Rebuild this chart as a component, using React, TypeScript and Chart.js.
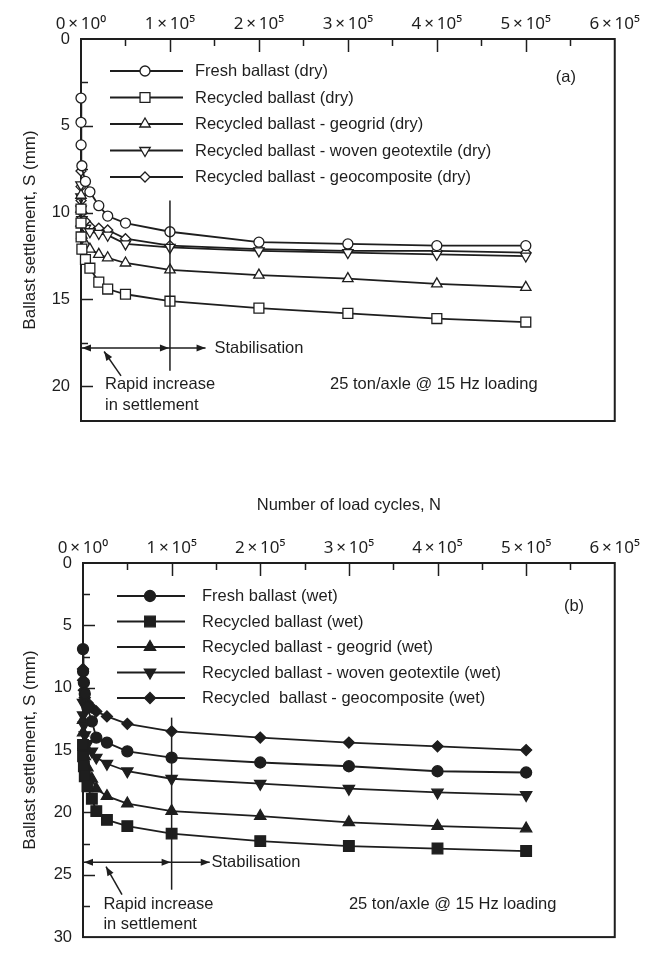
import React, { useEffect, useRef } from 'react';
import { Chart, registerables } from 'chart.js';
Chart.register(...registerables);

// ---------------- data ----------------
const cyclesDry = [1, 10, 100, 1000, 5000, 10000, 20000, 30000, 50000, 100000, 200000, 300000, 400000, 500000];
const freshDry = [3.4, 4.8, 6.1, 7.3, 8.2, 8.8, 9.6, 10.2, 10.6, 11.1, 11.7, 11.8, 11.9, 11.9];
const recycledDry = [9.8, 10.6, 11.4, 12.1, 12.7, 13.2, 14.0, 14.4, 14.7, 15.1, 15.5, 15.8, 16.1, 16.3];
const geogridDry = [9.0, 9.8, 10.6, 11.3, 11.8, 12.1, 12.4, 12.6, 12.9, 13.3, 13.6, 13.8, 14.1, 14.3];
const wovenDry = [8.4, 9.1, 9.8, 10.4, 10.9, 11.1, 11.2, 11.3, 11.8, 12.0, 12.2, 12.3, 12.4, 12.5];
const geocompositeDry = [7.6, 8.5, 9.3, 10.0, 10.5, 10.8, 10.9, 11.0, 11.5, 11.9, 12.1, 12.2, 12.2, 12.3];

const cyclesWet = [1, 100, 1000, 2000, 5000, 10000, 15000, 27000, 50000, 100000, 200000, 300000, 400000, 500000];
const freshWet = [6.9, 8.7, 9.6, 10.5, 11.6, 12.7, 14.0, 14.4, 15.1, 15.6, 16.0, 16.3, 16.7, 16.8];
const recycledWet = [14.6, 15.5, 16.3, 17.1, 17.9, 18.9, 19.9, 20.6, 21.1, 21.7, 22.3, 22.7, 22.9, 23.1];
const geogridWet = [12.6, 13.6, 14.6, 15.5, 16.4, 17.3, 18.1, 18.7, 19.3, 19.9, 20.3, 20.8, 21.1, 21.3];
const wovenWet = [11.2, 12.2, 13.0, 13.8, 14.5, 15.1, 15.6, 16.1, 16.7, 17.3, 17.7, 18.1, 18.4, 18.6];
const geocompositeWet = [8.5, 9.4, 10.2, 10.8, 11.2, 11.6, 11.9, 12.3, 12.9, 13.5, 14.0, 14.4, 14.7, 15.0];

const labelsDry = [
  'Fresh ballast (dry)',
  'Recycled ballast (dry)',
  'Recycled ballast - geogrid (dry)',
  'Recycled ballast - woven geotextile (dry)',
  'Recycled ballast - geocomposite (dry)',
];
const labelsWet = [
  'Fresh ballast (wet)',
  'Recycled ballast (wet)',
  'Recycled ballast - geogrid (wet)',
  'Recycled ballast - woven geotextile (wet)',
  'Recycled  ballast - geocomposite (wet)',
];

const xTickValues = [0, 100000, 200000, 300000, 400000, 500000, 600000];
const xTickLabels = ['0\u2009×\u200910⁰', '1\u2009×\u200910⁵', '2\u2009×\u200910⁵', '3\u2009×\u200910⁵', '4\u2009×\u200910⁵', '5\u2009×\u200910⁵', '6\u2009×\u200910⁵'];
const yTicksA = [0, 5, 10, 15, 20];
const yTicksB = [0, 5, 10, 15, 20, 25, 30];

// ---------------- styling ----------------
const FONT = '"Liberation Sans", Arial, Helvetica, sans-serif';
const TICKFONT = '"Noto Sans", "DejaVu Sans", sans-serif';
const INK = '#1e1e1e';

const markerStyles = [
  { style: 'circle', rot: 0, r: 5 },
  { style: 'rect', r: 7, rot: 0 },
  { style: 'triangle', r: 6, rot: 0 },
  { style: 'triangle', r: 6, rot: 180 },
  { style: 'rectRot', r: 5, rot: 0 },
];

function markerPath(ctx: CanvasRenderingContext2D, style: string, x: number, y: number, r: number, rotDeg: number) {
  ctx.beginPath();
  let rad = (rotDeg * Math.PI) / 180;
  if (style === 'circle') {
    ctx.arc(x, y, r, 0, Math.PI * 2);
  } else if (style === 'rect') {
    const s = r * Math.SQRT1_2;
    ctx.rect(x - s, y - s, 2 * s, 2 * s);
  } else if (style === 'triangle') {
    for (let i = 0; i < 3; i++) {
      const px = x + Math.sin(rad) * r;
      const py = y - Math.cos(rad) * r;
      if (i === 0) ctx.moveTo(px, py);
      else ctx.lineTo(px, py);
      rad += (2 * Math.PI) / 3;
    }
  } else if (style === 'rectRot') {
    ctx.moveTo(x, y - r);
    ctx.lineTo(x + r, y);
    ctx.lineTo(x, y + r);
    ctx.lineTo(x - r, y);
  }
  ctx.closePath();
}

const framePlugin = {
  id: 'frame',
  beforeDatasetsDraw(chart: any, _args: any, opts: any) {
    const { ctx, chartArea: a, scales } = chart;
    ctx.save();
    ctx.strokeStyle = INK;
    ctx.lineWidth = 1.5;
    for (let v = opts.xStep; v < opts.xMax; v += opts.xStep) {
      const px = Math.round(scales.x.getPixelForValue(v)) + 0.5;
      const len = Math.abs(v % (opts.xStep * 2)) < 1 ? 13 : 7;
      ctx.beginPath();
      ctx.moveTo(px, a.top);
      ctx.lineTo(px, a.top + len);
      ctx.stroke();
    }
    for (let v = opts.yStep; v < opts.yMax; v += opts.yStep) {
      const py = Math.round(scales.y.getPixelForValue(v)) + 0.5;
      const len = Math.abs(v % (opts.yStep * 2)) < 0.01 ? 12 : 7;
      ctx.beginPath();
      ctx.moveTo(a.left, py);
      ctx.lineTo(a.left + len, py);
      ctx.stroke();
    }
    ctx.lineWidth = 2;
    ctx.strokeRect(a.left, a.top, a.width, a.height);
    ctx.restore();
  },
};

function arrowHead(ctx: CanvasRenderingContext2D, tx: number, ty: number, fx: number, fy: number, len = 9, half = 3.5) {
  const ang = Math.atan2(ty - fy, tx - fx);
  ctx.beginPath();
  ctx.moveTo(tx, ty);
  ctx.lineTo(tx - len * Math.cos(ang) + half * Math.sin(ang), ty - len * Math.sin(ang) - half * Math.cos(ang));
  ctx.lineTo(tx - len * Math.cos(ang) - half * Math.sin(ang), ty - len * Math.sin(ang) + half * Math.cos(ang));
  ctx.closePath();
  ctx.fill();
}

const notePlugin = {
  id: 'notes',
  afterDatasetsDraw(chart: any, _args: any, o: any) {
    const { ctx, scales } = chart;
    const X = (v: number) => scales.x.getPixelForValue(v);
    const Y = (v: number) => scales.y.getPixelForValue(v);
    ctx.save();
    ctx.strokeStyle = INK;
    ctx.fillStyle = INK;
    ctx.lineWidth = 1.5;
    ctx.beginPath();
    ctx.moveTo(X(o.vline.x), Y(o.vline.y1));
    ctx.lineTo(X(o.vline.x), Y(o.vline.y2));
    ctx.stroke();
    const ay = Y(o.arrow.y);
    const x0 = X(o.arrow.x0), xm = X(o.arrow.xm), x1 = X(o.arrow.x1);
    ctx.beginPath();
    ctx.moveTo(x0, ay);
    ctx.lineTo(x1, ay);
    ctx.stroke();
    arrowHead(ctx, x0 + 1, ay, x0 + 20, ay);
    arrowHead(ctx, xm - 1, ay, xm - 20, ay);
    arrowHead(ctx, x1, ay, x1 - 20, ay);
    const px0 = X(o.pointer.x0), py0 = Y(o.pointer.y0), px1 = X(o.pointer.x1), py1 = Y(o.pointer.y1);
    ctx.beginPath();
    ctx.moveTo(px0, py0);
    ctx.lineTo(px1, py1);
    ctx.stroke();
    arrowHead(ctx, px1, py1, px0, py0);
    ctx.font = `16.5px ${FONT}`;
    ctx.textBaseline = 'middle';
    for (const t of o.texts) {
      ctx.textAlign = t.align || 'left';
      ctx.fillText(t.text, X(t.x), Y(t.y));
    }
    ctx.restore();
  },
};

const legendPlugin = {
  id: 'boxLegend',
  afterDatasetsDraw(chart: any, _args: any, o: any) {
    const { ctx, chartArea: a } = chart;
    ctx.save();
    ctx.font = `16.5px ${FONT}`;
    ctx.textBaseline = 'middle';
    ctx.textAlign = 'left';
    chart.data.datasets.forEach((ds: any, i: number) => {
      const y = a.top + o.top + i * o.spacing;
      ctx.strokeStyle = INK;
      ctx.lineWidth = 1.8;
      ctx.beginPath();
      ctx.moveTo(a.left + o.lineStart, y);
      ctx.lineTo(a.left + o.lineEnd, y);
      ctx.stroke();
      const mx = a.left + o.marker;
      markerPath(ctx, ds.pointStyle, mx, y, ds.pointRadius, ds.pointRotation || 0);
      ctx.fillStyle = ds.pointBackgroundColor;
      ctx.fill();
      ctx.lineWidth = ds.pointBorderWidth;
      ctx.strokeStyle = INK;
      ctx.stroke();
      ctx.fillStyle = INK;
      ctx.fillText(ds.label, a.left + o.text, y + 0.5);
    });
    ctx.restore();
  },
};

function buildConfig(p: any) {
  const series = p.series as number[][];
  return {
    type: 'line',
    data: {
      datasets: series.map((vals, i) => {
        const st = markerStyles[i];
        return {
          label: p.labels[i],
          data: p.cycles.map((n: number, j: number) => ({ x: n, y: vals[j] })),
          borderColor: INK,
          borderWidth: 1.8,
          pointStyle: st.style,
          pointRotation: st.rot,
          pointRadius: p.filled ? st.r + 0.5 : st.r,
          pointBackgroundColor: p.filled ? INK : '#ffffff',
          pointBorderColor: INK,
          pointBorderWidth: 1.3,
          tension: 0,
          fill: false,
          clip: false,
        };
      }),
    },
    options: {
      responsive: false,
      animation: false,
      devicePixelRatio: 1,
      layout: { padding: { left: 0, right: p.padRight, top: 0, bottom: p.padBottom } },
      plugins: {
        legend: { display: false },
        tooltip: { enabled: false },
        frame: { xStep: 50000, xMax: 600000, yStep: 2.5, yMax: p.yMax },
        notes: p.notes,
        boxLegend: p.legend,
      },
      scales: {
        x: {
          type: 'linear',
          position: 'top',
          min: 0,
          max: 600000,
          grid: { display: false, drawTicks: false },
          border: { display: false },
          afterBuildTicks: (s: any) => {
            s.ticks = xTickValues.map((v) => ({ value: v }));
          },
          afterFit: (s: any) => {
            s.height = p.topH;
          },
          ticks: {
            padding: 5,
            color: INK,
            font: { family: TICKFONT, size: 17 },
            maxRotation: 0,
            autoSkip: false,
            callback: (v: number) => xTickLabels[Math.round(v / 100000)],
          },
          title: {
            display: !!p.xTitle,
            text: p.xTitle || '',
            color: INK,
            font: { family: FONT, size: 16.5 },
            padding: { top: 16, bottom: 0 },
          },
        },
        y: {
          type: 'linear',
          reverse: true,
          min: 0,
          max: p.yMax,
          grid: { display: false, drawTicks: false },
          border: { display: false },
          afterBuildTicks: (s: any) => {
            s.ticks = p.yTicks.map((v: number) => ({ value: v }));
          },
          afterFit: (s: any) => {
            s.width = p.leftW;
          },
          ticks: { padding: 11, color: INK, font: { family: FONT, size: 16.5 } },
          title: {
            display: true,
            text: 'Ballast settlement, S (mm)',
            color: INK,
            font: { family: FONT, size: 17 },
            padding: { top: 20, bottom: 0 },
          },
        },
      },
    },
    plugins: [framePlugin, notePlugin, legendPlugin],
  };
}

const panelA = {
  cycles: cyclesDry,
  series: [freshDry, recycledDry, geogridDry, wovenDry, geocompositeDry],
  labels: labelsDry,
  filled: false,
  yMax: 22,
  yTicks: yTicksA,
  leftW: 81,
  topH: 39,
  padRight: 29,
  padBottom: 49,
  legend: { top: 32, spacing: 26.5, lineStart: 29, lineEnd: 102, marker: 64, text: 114 },
  notes: {
    vline: { x: 100000, y1: 9.3, y2: 19.1 },
    arrow: { y: 17.8, x0: 0, xm: 100000, x1: 140000 },
    pointer: { x0: 45000, y0: 19.4, x1: 26000, y1: 18.0 },
    texts: [
      { text: 'Stabilisation', x: 150000, y: 17.8 },
      { text: 'Rapid increase', x: 27000, y: 19.9 },
      { text: 'in settlement', x: 27000, y: 21.1 },
      { text: '25 ton/axle @ 15 Hz loading', x: 280000, y: 19.9 },
      { text: '(a)', x: 545000, y: 2.2, align: 'center' },
    ],
  },
};

const panelB = {
  cycles: cyclesWet,
  series: [freshWet, recycledWet, geogridWet, wovenWet, geocompositeWet],
  labels: labelsWet,
  filled: true,
  yMax: 30,
  yTicks: yTicksB,
  leftW: 83,
  topH: 83,
  padRight: 28,
  padBottom: 13,
  xTitle: 'Number of load cycles, N',
  legend: { top: 33, spacing: 25.5, lineStart: 34, lineEnd: 102, marker: 67, text: 119 },
  notes: {
    vline: { x: 100000, y1: 12.4, y2: 26.2 },
    arrow: { y: 24.0, x0: 0, xm: 100000, x1: 143000 },
    pointer: { x0: 44000, y0: 26.6, x1: 26000, y1: 24.35 },
    texts: [
      { text: 'Stabilisation', x: 145000, y: 24.0 },
      { text: 'Rapid increase', x: 23000, y: 27.4 },
      { text: 'in settlement', x: 23000, y: 29.0 },
      { text: '25 ton/axle @ 15 Hz loading', x: 300000, y: 27.4 },
      { text: '(b)', x: 554000, y: 3.5, align: 'center' },
    ],
  },
};

function Panel({ top, height, spec }: { top: number; height: number; spec: any }) {
  const ref = useRef<HTMLCanvasElement | null>(null);
  useEffect(() => {
    if (!ref.current) return;
    const chart = new Chart(ref.current, buildConfig(spec) as any);
    return () => chart.destroy();
  }, [spec]);
  return (
    <canvas
      ref={ref}
      width={645}
      height={height}
      style={{ position: 'absolute', left: 0, top, width: 645, height, display: 'block' }}
    />
  );
}

export default function App() {
  return (
    <div style={{ position: 'fixed', left: 0, top: 0, width: 645, height: 958, background: '#fff', overflow: 'hidden' }}>
      <Panel top={0} height={470} spec={panelA} />
      <Panel top={480} height={478} spec={panelB} />
    </div>
  );
}
